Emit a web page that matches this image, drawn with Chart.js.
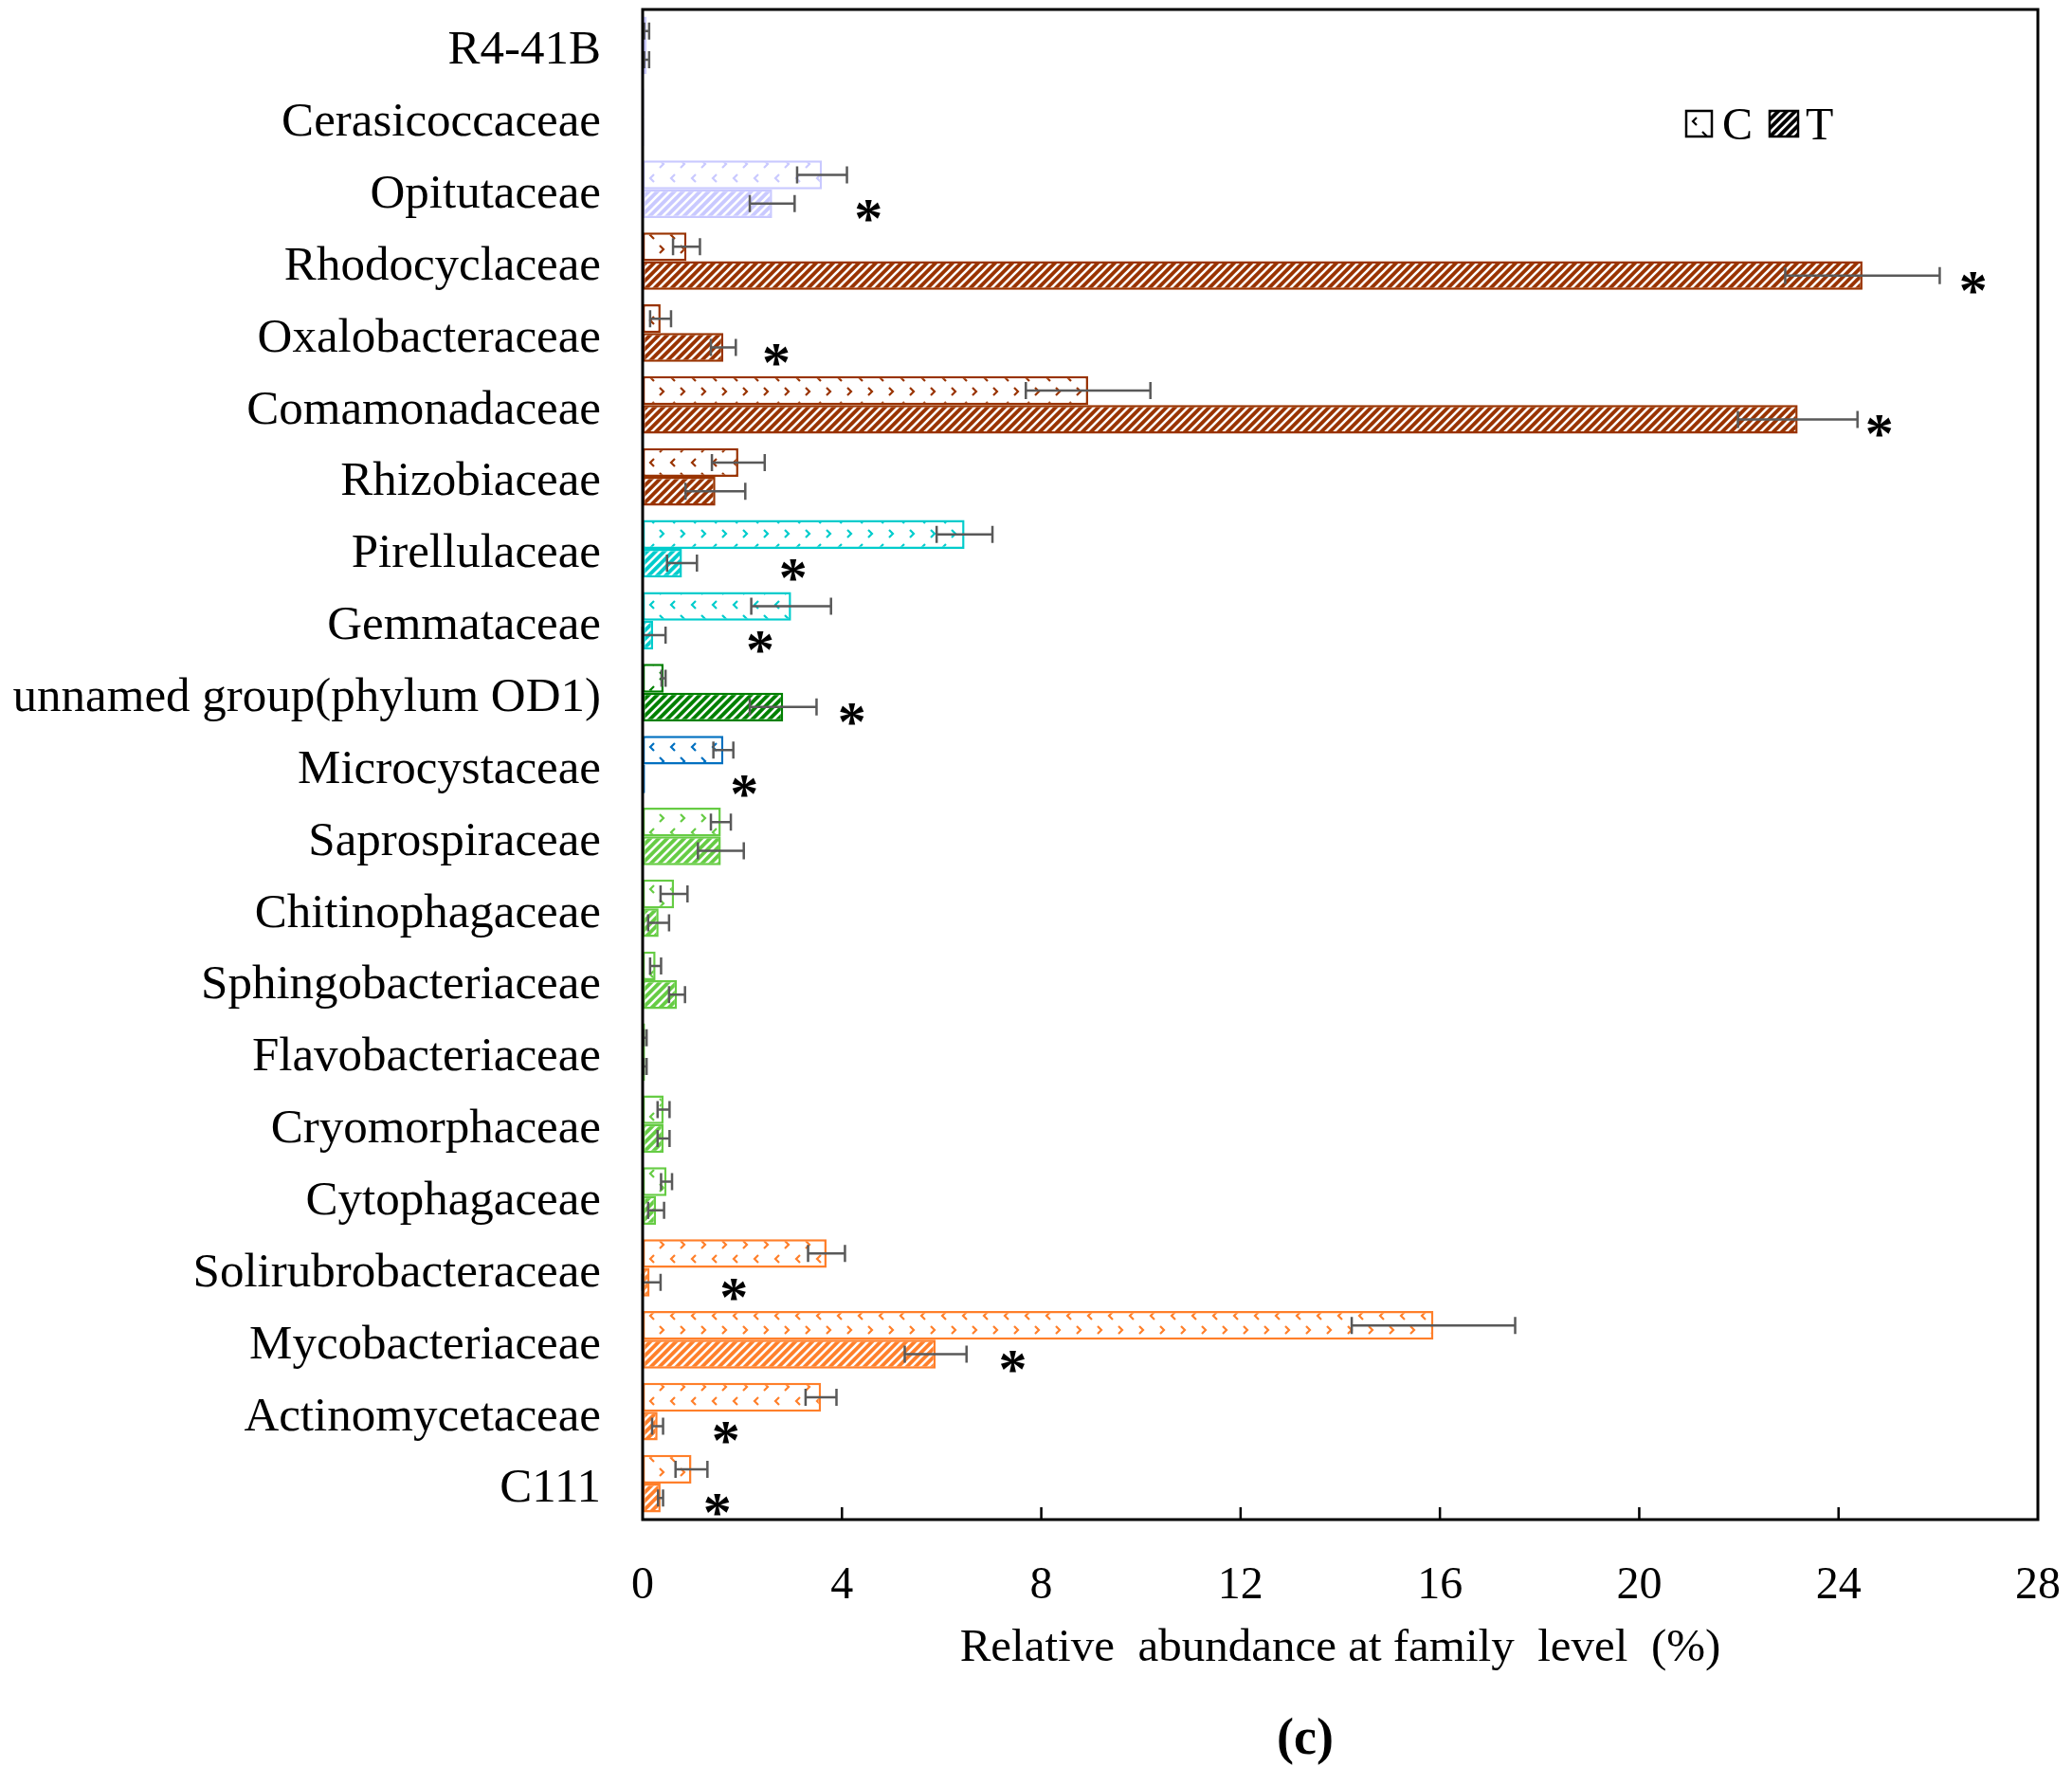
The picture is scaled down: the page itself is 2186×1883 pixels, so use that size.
<!DOCTYPE html>
<html>
<head>
<meta charset="utf-8">
<script src="https://cdn.jsdelivr.net/npm/chart.js@4.4.1/dist/chart.umd.min.js"></script>
<style>
html,body{margin:0;padding:0;background:#fff;}
canvas{display:block;}
</style>
</head>
<body>
<canvas id="c" width="2186" height="1883"></canvas>
<script>
const categories = ['R4-41B','Cerasicoccaceae','Opitutaceae','Rhodocyclaceae','Oxalobacteraceae','Comamonadaceae','Rhizobiaceae','Pirellulaceae','Gemmataceae','unnamed group(phylum OD1)','Microcystaceae','Saprospiraceae','Chitinophagaceae','Sphingobacteriaceae','Flavobacteriaceae','Cryomorphaceae','Cytophagaceae','Solirubrobacteraceae','Mycobacteriaceae','Actinomycetaceae','C111'];
const valuesC = [0.08, 0.03, 3.6, 0.88, 0.36, 8.94, 1.92, 6.46, 2.98, 0.42, 1.62, 1.57, 0.63, 0.26, 0.05, 0.42, 0.48, 3.69, 15.87, 3.58, 0.98];
const errorsC = [0.05, 0, 0.5, 0.27, 0.21, 1.25, 0.53, 0.56, 0.8, 0.04, 0.2, 0.2, 0.27, 0.11, 0.03, 0.12, 0.11, 0.37, 1.64, 0.31, 0.32];
const valuesT = [0.08, 0.03, 2.6, 24.48, 1.62, 23.18, 1.46, 0.79, 0.21, 2.82, 0.05, 1.57, 0.32, 0.69, 0.05, 0.42, 0.27, 0.14, 5.88, 0.3, 0.36];
const errorsT = [0.05, 0, 0.45, 1.55, 0.25, 1.2, 0.6, 0.3, 0.25, 0.67, 0, 0.46, 0.21, 0.16, 0.03, 0.12, 0.16, 0.22, 0.62, 0.11, 0.05];
const starX = [null, null, 4.53, 26.7, 2.68, 24.82, null, 3.02, 2.36, 4.2, 2.04, null, null, null, null, null, null, 1.83, 7.43, 1.67, 1.5];
const xTicks = [0, 4, 8, 12, 16, 20, 24, 28];
const seriesNames = ['C', 'T'];
const xTitle = 'Relative  abundance at family  level  (%)';
const panelLabel = '(c)';

const palette = {lav:'#C9C9FF', brown:'#993300', cyan:'#00CCCC', dgreen:'#008000', blue:'#0070C0', lgreen:'#66CC44', orange:'#FF7F2A'};
const catColors = ['lav','lav','lav','brown','brown','brown','brown','cyan','cyan','dgreen','blue','lgreen','lgreen','lgreen','lgreen','lgreen','lgreen','orange','orange','orange','orange'].map(k => palette[k]);

const FONT = '"Liberation Serif", "Times New Roman", serif';

function dotPattern(color, bg) {
  const cv = document.createElement('canvas');
  cv.width = 22; cv.height = 30;
  const g = cv.getContext('2d');
  g.fillStyle = bg; g.fillRect(0, 0, 22, 30);
  g.strokeStyle = color; g.lineWidth = 2.2;
  g.beginPath(); g.moveTo(8, 4); g.lineTo(4, 8); g.lineTo(8, 12); g.stroke();
  g.beginPath(); g.moveTo(14, 19); g.lineTo(18, 23); g.lineTo(14, 27); g.stroke();
  const ctx = document.getElementById('c').getContext('2d');
  return ctx.createPattern(cv, 'repeat');
}
function hatchPattern(color, line) {
  const s = 9;
  const cv = document.createElement('canvas');
  cv.width = s; cv.height = s;
  const g = cv.getContext('2d');
  g.fillStyle = color; g.fillRect(0, 0, s, s);
  g.strokeStyle = line; g.lineWidth = 2.6;
  g.beginPath();
  g.moveTo(-2, s + 2); g.lineTo(s + 2, -2);
  g.moveTo(-2, 2); g.lineTo(2, -2);
  g.moveTo(s - 2, s + 2); g.lineTo(s + 2, s - 2);
  g.stroke();
  const ctx = document.getElementById('c').getContext('2d');
  return ctx.createPattern(cv, 'repeat');
}

const CHART_LEFT = 678, CHART_BOTTOM = 1603;

const errorBars = {
  id: 'errorBars',
  afterDatasetsDraw(chart) {
    const ctx = chart.ctx, xs = chart.scales.x;
    const errs = [errorsC, errorsT];
    const vals = [valuesC, valuesT];
    ctx.save();
    ctx.strokeStyle = '#595959';
    ctx.lineWidth = 2.5;
    for (let d = 0; d < 2; d++) {
      const meta = chart.getDatasetMeta(d);
      meta.data.forEach((el, j) => {
        const e = errs[d][j];
        if (!e) return;
        const x1 = xs.getPixelForValue(Math.max(0, vals[d][j] - e));
        const x2 = xs.getPixelForValue(vals[d][j] + e);
        const y = el.y, h = 9;
        ctx.beginPath();
        ctx.moveTo(x1, y); ctx.lineTo(x2, y);
        ctx.moveTo(x1, y - h); ctx.lineTo(x1, y + h);
        ctx.moveTo(x2, y - h); ctx.lineTo(x2, y + h);
        ctx.stroke();
      });
    }
    // significance stars
    const metaT = chart.getDatasetMeta(1);
    ctx.fillStyle = '#000';
    ctx.font = 'bold 60px ' + FONT;
    ctx.textAlign = 'center';
    ctx.textBaseline = 'alphabetic';
    starX.forEach((v, j) => {
      if (v === null) return;
      const x = xs.getPixelForValue(v);
      const y = metaT.data[j].y + 35;
      ctx.fillText('*', x, y);
    });
    ctx.restore();
  }
};

const frame = {
  id: 'frame',
  afterDraw(chart) {
    const ctx = chart.ctx, a = chart.chartArea, xs = chart.scales.x;
    ctx.save();
    ctx.strokeStyle = '#000';
    ctx.lineWidth = 3;
    ctx.strokeRect(a.left, a.top, a.right - a.left, a.bottom - a.top);
    ctx.lineWidth = 2.5;
    ctx.beginPath();
    xTicks.forEach(v => {
      if (v === xTicks[0] || v === xTicks[xTicks.length - 1]) return;
      const x = xs.getPixelForValue(v);
      ctx.moveTo(x, a.bottom); ctx.lineTo(x, a.bottom - 13);
    });
    ctx.stroke();
    // legend
    const lx = 1779, ly = 117, bs = 27;
    ctx.fillStyle = dotPattern('#000', '#fff');
    ctx.fillRect(lx, ly, bs, bs);
    ctx.lineWidth = 2.5;
    ctx.strokeRect(lx, ly, bs, bs);
    ctx.fillStyle = hatchPattern('#000', '#fff');
    ctx.fillRect(lx + 88, ly, bs + 3, bs);
    ctx.strokeRect(lx + 88, ly, bs + 3, bs);
    ctx.fillStyle = '#000';
    ctx.font = '48px ' + FONT;
    ctx.textAlign = 'left';
    ctx.textBaseline = 'alphabetic';
    ctx.fillText(seriesNames[0], lx + 38, ly + 30);
    ctx.fillText(seriesNames[1], lx + 126, ly + 30);
    // panel label
    ctx.font = 'bold 54px ' + FONT;
    ctx.textAlign = 'center';
    ctx.textBaseline = 'middle';
    ctx.fillText(panelLabel, 1377, 1836);
    ctx.restore();
  }
};

new Chart(document.getElementById('c'), {
  type: 'bar',
  data: {
    labels: categories,
    datasets: [
      {label: seriesNames[0], data: valuesC,
       backgroundColor: catColors.map(c => dotPattern(c, '#fff')),
       borderColor: catColors, borderWidth: 2.5, borderSkipped: false},
      {label: seriesNames[1], data: valuesT,
       backgroundColor: catColors.map(c => hatchPattern(c, '#fff')),
       borderColor: catColors, borderWidth: 2.5, borderSkipped: false}
    ]
  },
  options: {
    indexAxis: 'y',
    responsive: false,
    animation: false,
    devicePixelRatio: 1,
    categoryPercentage: 0.8,
    barPercentage: 1.0,
    layout: {padding: {top: 10, right: 36, left: 0, bottom: 0}},
    plugins: {legend: {display: false}, tooltip: {enabled: false}},
    scales: {
      x: {
        min: 0, max: 28,
        afterBuildTicks: s => { s.ticks = xTicks.map(v => ({value: v})); },
        afterFit: s => { s.height = 1883 - CHART_BOTTOM; s.paddingLeft = 0; s.paddingRight = 0; },
        ticks: {font: {family: FONT, size: 48}, color: '#000', padding: 34, maxRotation: 0},
        grid: {display: false},
        border: {display: false},
        title: {display: true, text: xTitle, font: {family: FONT, size: 49}, color: '#000', padding: {top: 18, bottom: 114}}
      },
      y: {
        afterFit: s => { s.width = CHART_LEFT; s.paddingTop = 0; s.paddingBottom = 0; },
        ticks: {font: {family: FONT, size: 51}, color: '#000', padding: 36, autoSkip: false, labelOffset: 6},
        grid: {display: false},
        border: {display: false}
      }
    }
  },
  plugins: [errorBars, frame]
});
</script>
</body>
</html>
